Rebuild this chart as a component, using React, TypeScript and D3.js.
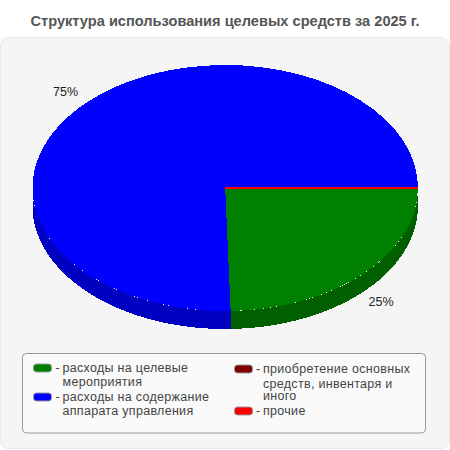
import React from "react";
import * as d3 from "d3";

const title = "Структура использования целевых средств за 2025 г.";
const sliceValues = [24.55, 75.4, 0.0, 0.05];
const sliceColors = ["#008000", "#0000ff", "#800000", "#ff0000"];
const sideColors = ["#006000", "#0000c0", "#600000", "#c00000"];
const sliceLabels = ["25%", "75%"];
const legendColumnOne = [
  { color: "#008000", lines: ["расходы на целевые", "мероприятия"], baselines: [372, 386] },
  { color: "#0000ff", lines: ["расходы на содержание", "аппарата управления"], baselines: [401, 415] },
];
const legendColumnTwo = [
  { color: "#800000", lines: ["приобретение основных", "средств, инвентаря и", "иного"], baselines: [373, 388, 400] },
  { color: "#ff0000", lines: ["прочие"], baselines: [415] },
];

const cx = 225.2, cy = 188, rx = 192.7, ry = 123, depth = 18;
const FONT = "'Liberation Sans', Arial, sans-serif";

const px = (a: number) => cx + rx * Math.sin(a);
const py = (a: number) => cy - ry * Math.cos(a);

function wall(a0: number, a1: number) {
  const lo = Math.max(a0, Math.PI / 2);
  const hi = Math.min(a1, (3 * Math.PI) / 2);
  if (hi <= lo) return null;
  const steps = d3.range(0, 121).map((i) => lo + ((hi - lo) * i) / 120);
  const top = steps.map((a) => [px(a), py(a)] as [number, number]);
  const bottom = steps.slice().reverse().map((a) => [px(a), py(a) + depth] as [number, number]);
  return d3.line()([...top, ...bottom]) + "Z";
}

export default function App() {
  const arcs = d3
    .pie<number>()
    .sort(null)
    .startAngle(Math.PI / 2)
    .endAngle(Math.PI / 2 + 2 * Math.PI)(sliceValues);
  const arc = d3.arc<d3.PieArcDatum<number>>().innerRadius(0).outerRadius(rx);

  const legend = (col: typeof legendColumnOne, swatchX: number, textX: number) =>
    col.map((e) => (
      <g key={e.color}>
        <rect x={swatchX} y={e.baselines[0] - 8} width={18} height={8} rx={3} fill={e.color} stroke="#999" strokeWidth={1} />
        <text x={textX - 7} y={e.baselines[0]} fontSize={12.5} fill="#444" fontFamily={FONT}>-</text>
        {e.lines.map((l, i) => (
          <text key={l} x={textX} y={e.baselines[i]} fontSize={12.5} fill="#444" fontFamily={FONT} letterSpacing={0.3}>{l}</text>
        ))}
      </g>
    ));

  return (
    <svg width={450} height={450} style={{ position: "absolute", left: 0, top: 0 }}>
      <rect x={0} y={0} width={450} height={450} fill="#fff" />
      <text x={225} y={26} textAnchor="middle" fontSize={14.6} fontWeight="bold" fill="#555" fontFamily={FONT}>{title}</text>
      <rect x={0.5} y={37.5} width={449} height={411} rx={8} fill="#f5f5f5" stroke="#e8e8e8" />
      <g shapeRendering="crispEdges">
        {arcs.map((d, i) => {
          const p = wall(d.startAngle, d.endAngle);
          return p ? <path key={i} d={p} fill={sideColors[i]} /> : null;
        })}
        <g transform={`translate(${cx},${cy}) scale(1,${ry / rx})`}>
          {arcs.map((d, i) => (
            <path
              key={i}
              d={arc(d) || ""}
              fill={sliceColors[i]}
              stroke={i === 3 ? sliceColors[i] : "none"}
              strokeWidth={i === 3 ? 1 : 0}
              vectorEffect="non-scaling-stroke"
            />
          ))}
        </g>
      </g>
      <text x={368.5} y={306} fontSize={12.5} fill="#222" fontFamily={FONT}>{sliceLabels[0]}</text>
      <text x={53} y={96} fontSize={12.5} fill="#222" fontFamily={FONT}>{sliceLabels[1]}</text>
      <rect x={22.5} y={353.5} width={403} height={79.5} rx={4} fill="#fafafa" stroke="#999" />
      {legend(legendColumnOne, 33.5, 62.5)}
      {legend(legendColumnTwo, 234.5, 263)}
    </svg>
  );
}
